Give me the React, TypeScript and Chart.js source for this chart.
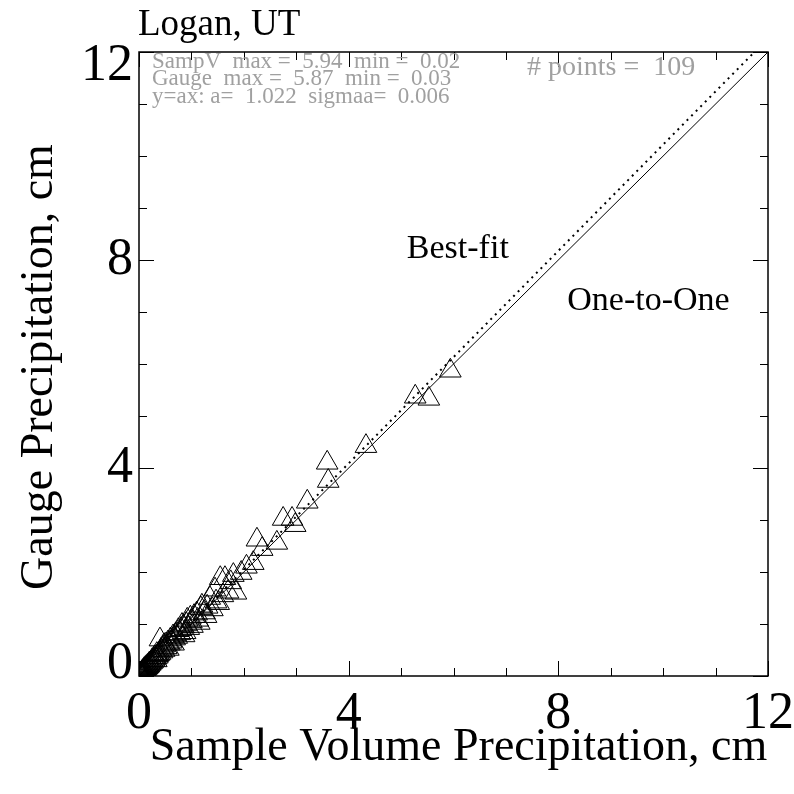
import React, { useEffect, useRef } from "react";
import { Chart, registerables } from "chart.js";

Chart.register(...registerables);

// ---- Data ----
const titleText = "Logan, UT";
const xAxisTitle = "Sample Volume Precipitation, cm";
const yAxisTitle = "Gauge Precipitation, cm";
const tickLabels = [0, 4, 8, 12];
const axisMin = 0;
const axisMax = 12;
const fitSlope = 1.022;

// Sample volume precipitation (cm)
const sampV = [
  5.94, 5.27, 5.53, 4.33, 3.59, 3.61, 3.21, 2.75, 2.92, 2.98, 2.25, 2.35, 2.63, 2.18,
  1.55, 1.64, 1.80, 1.85, 1.45, 1.30, 1.47,
  1.35, 1.40, 1.52, 1.60, 1.70, 1.75, 1.95, 2.05,
  1.25, 1.18, 1.12, 1.20, 1.05, 1.00, 1.10, 0.98, 0.95, 0.90, 0.92, 0.85, 0.88, 0.80,
  0.82, 0.78, 0.75, 0.72, 0.70, 0.68, 0.65, 0.62, 0.60, 0.58, 0.55, 0.52, 0.50, 0.48,
  0.46, 0.44, 0.42, 0.40, 0.40, 0.38, 0.36, 0.35, 0.34, 0.32, 0.30, 0.29, 0.28, 0.26,
  0.25, 0.24, 0.22, 0.21, 0.20, 0.19, 0.18, 0.17, 0.16, 0.15, 0.14, 0.13, 0.12, 0.11,
  0.10, 0.10, 0.09, 0.08, 0.08, 0.07, 0.06, 0.06, 0.05, 0.05, 0.04, 0.04, 0.03, 0.03,
  0.02, 0.02,
  1.28, 1.15, 1.02, 0.86, 0.66, 0.56, 0.47, 0.33,
];

// Gauge precipitation (cm)
const gauge = [
  5.87, 5.37, 5.33, 4.42, 4.10, 3.75, 3.35, 3.02, 3.02, 2.90, 2.62, 2.44, 2.56, 2.17,
  1.88, 1.88, 1.94, 1.60, 1.66, 1.33, 1.43,
  1.50, 1.28, 1.40, 1.55, 1.62, 1.80, 1.98, 2.10,
  1.22, 1.30, 1.08, 1.35, 1.15, 1.05, 1.20, 1.12, 0.92, 1.00, 1.08, 0.95, 0.84, 0.90,
  0.98, 0.82, 0.88, 0.75, 0.80, 0.72, 0.76, 0.66, 0.70, 0.62, 0.64, 0.55, 0.60, 0.50,
  0.54, 0.47, 0.50, 0.70, 0.44, 0.42, 0.40, 0.37, 0.42, 0.35, 0.36, 0.31, 0.33, 0.28,
  0.30, 0.26, 0.25, 0.23, 0.24, 0.20, 0.21, 0.18, 0.19, 0.16, 0.17, 0.14, 0.15, 0.12,
  0.13, 0.10, 0.11, 0.09, 0.10, 0.08, 0.07, 0.08, 0.06, 0.05, 0.05, 0.04, 0.04, 0.03,
  0.03, 0.04,
  1.15, 1.02, 0.96, 0.78, 0.62, 0.52, 0.58, 0.30,
];

const statLines = [
  "SampV  max =  5.94  min =  0.02",
  "Gauge  max =  5.87  min =  0.03",
  "y=ax: a=  1.022  sigmaa=  0.006",
];
const pointsText = "# points =  109";
const bestFitLabel = { text: "Best-fit", x: 5.11, y: 8.04 };
const oneToOneLabel = { text: "One-to-One", x: 8.17, y: 7.04 };

const lineX = [axisMin, axisMax];

const SERIF = '"Liberation Serif", "Times New Roman", Times, serif';

export default function App() {
  const ref = useRef<HTMLCanvasElement | null>(null);

  useEffect(() => {
    document.body.style.margin = "0";
    const canvas = ref.current;
    if (!canvas) return;

    const points = sampV.map((x, i) => ({ x, y: gauge[i] }));
    const oneToOne = lineX.map((x) => ({ x, y: x }));
    const bestFit = lineX.map((x) => ({ x, y: fitSlope * x }));

    const decor = {
      id: "decor",
      afterDraw(chart: any) {
        const ctx = chart.ctx as CanvasRenderingContext2D;
        const xs = chart.scales.x;
        const ys = chart.scales.y;
        const { left, right, top, bottom } = chart.chartArea;
        ctx.save();
        // frame
        ctx.strokeStyle = "#000";
        ctx.lineWidth = 1.5;
        ctx.strokeRect(left, top, right - left, bottom - top);
        // ticks
        ctx.lineWidth = 1;
        ctx.beginPath();
        for (let v = axisMin; v <= axisMax; v += 1) {
          const len = v % 4 === 0 ? 15 : 8;
          const px = Math.round(xs.getPixelForValue(v)) + 0.5;
          const py = Math.round(ys.getPixelForValue(v)) + 0.5;
          ctx.moveTo(px, bottom);
          ctx.lineTo(px, bottom - len);
          ctx.moveTo(px, top);
          ctx.lineTo(px, top + len);
          ctx.moveTo(left, py);
          ctx.lineTo(left + len, py);
          ctx.moveTo(right, py);
          ctx.lineTo(right - len, py);
        }
        ctx.stroke();

        // tick labels
        ctx.fillStyle = "#000";
        ctx.font = `52px ${SERIF}`;
        ctx.textAlign = "center";
        ctx.textBaseline = "middle";
        for (const t of tickLabels) {
          ctx.fillText(String(t), xs.getPixelForValue(t), bottom + 38);
        }
        ctx.textAlign = "right";
        for (const t of tickLabels) {
          let py = ys.getPixelForValue(t);
          py = Math.min(Math.max(py, top + 14), bottom - 12);
          ctx.fillText(String(t), left - 6, py);
        }

        // axis titles
        ctx.font = `46px ${SERIF}`;
        ctx.textAlign = "center";
        ctx.textBaseline = "alphabetic";
        ctx.fillText(xAxisTitle, (left + right) / 2 + 5, bottom + 84);
        ctx.save();
        ctx.translate(52, (top + bottom) / 2 + 3);
        ctx.rotate(-Math.PI / 2);
        ctx.fillText(yAxisTitle, 0, 0);
        ctx.restore();

        // title
        ctx.textAlign = "left";
        ctx.font = `37px ${SERIF}`;
        ctx.fillText(titleText, left - 1, top - 17);

        // stats text
        ctx.fillStyle = "#a0a0a0";
        ctx.font = `23px ${SERIF}`;
        const base = [top + 16, top + 33, top + 51];
        statLines.forEach((s, i) => ctx.fillText(s, left + 13, base[i]));
        ctx.font = `28px ${SERIF}`;
        ctx.fillText(pointsText, left + 388, top + 23);

        // line labels
        ctx.fillStyle = "#000";
        ctx.font = `34px ${SERIF}`;
        ctx.fillText(bestFitLabel.text, xs.getPixelForValue(bestFitLabel.x), ys.getPixelForValue(bestFitLabel.y));
        ctx.fillText(oneToOneLabel.text, xs.getPixelForValue(oneToOneLabel.x), ys.getPixelForValue(oneToOneLabel.y));
        ctx.restore();
      },
    };

    const chart = new Chart(canvas, {
      type: "scatter",
      data: {
        datasets: [
          {
            type: "line",
            data: oneToOne,
            borderColor: "#000",
            borderWidth: 1,
            pointRadius: 0,
            fill: false,
          } as any,
          {
            type: "line",
            data: bestFit,
            borderColor: "#000",
            borderWidth: 2,
            borderDash: [2, 4.5],
            pointRadius: 0,
            fill: false,
          } as any,
          {
            data: points,
            pointStyle: "triangle",
            pointRadius: 12.5,
            pointBorderWidth: 1,
            pointBorderColor: "#000",
            pointBackgroundColor: "rgba(0,0,0,0)",
          } as any,
        ],
      },
      options: {
        responsive: false,
        animation: false,
        layout: { padding: { left: 139, right: 26, top: 52, bottom: 118 } },
        plugins: { legend: { display: false }, tooltip: { enabled: false } },
        scales: {
          x: { type: "linear", min: axisMin, max: axisMax, display: false },
          y: { type: "linear", min: axisMin, max: axisMax, display: false },
        },
      },
      plugins: [decor],
    });

    return () => chart.destroy();
  }, []);

  return (
    <div style={{ width: 794, height: 794, background: "#fff" }}>
      <canvas ref={ref} width={794} height={794} style={{ display: "block" }} />
    </div>
  );
}
